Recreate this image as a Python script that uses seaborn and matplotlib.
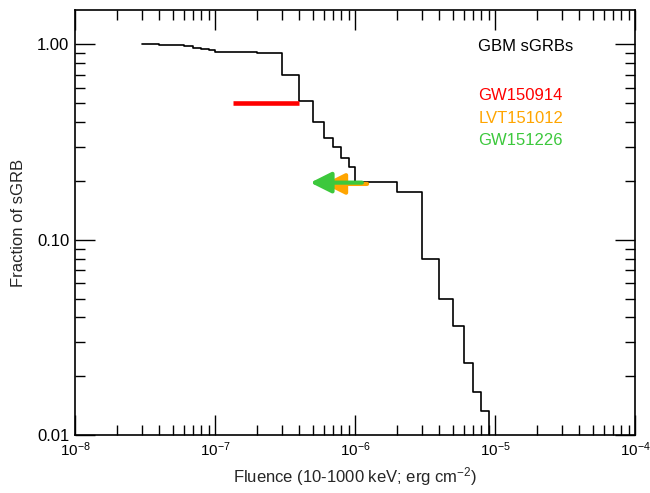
import numpy as np
import pandas as pd
import seaborn as sns
import matplotlib.pyplot as plt
from matplotlib.ticker import LogLocator, FixedLocator, FixedFormatter, NullFormatter

# cumulative fraction of GBM short GRBs above a given fluence (step edges)
fluence = [3e-8, 4e-8, 6e-8, 7e-8, 8e-8, 9e-8, 1e-7, 2e-7, 3e-7, 4e-7, 5e-7,
           6e-7, 7e-7, 8e-7, 9e-7, 1e-6, 2e-6, 3e-6, 4e-6, 5e-6, 6e-6, 7e-6,
           8e-6, 9e-6]
fraction = [1.0, 0.988, 0.98, 0.954, 0.946, 0.935, 0.913, 0.903, 0.696, 0.512,
            0.402, 0.331, 0.300, 0.262, 0.235, 0.198, 0.176, 0.080, 0.0497,
            0.0363, 0.0234, 0.0166, 0.0133, 0.001]

# GW event limits
gw150914_range = [1.35e-7, 4.0e-7]
gw150914_frac = 0.502
lvt151012_tail, lvt151012_tip, lvt151012_frac = 1.22e-6, 6.0e-7, 0.193
gw151226_tail, gw151226_tip, gw151226_frac = 1.12e-6, 4.8e-7, 0.196

sns.set_style('ticks')
plt.rcParams['font.family'] = ['Liberation Sans', 'DejaVu Sans']
plt.rcParams['mathtext.fontset'] = 'custom'
plt.rcParams['mathtext.rm'] = 'Liberation Sans'
plt.rcParams['mathtext.it'] = 'Liberation Sans'

fig = plt.figure(figsize=(6.5, 4.93), dpi=100)
ax = fig.add_axes([0.1154, 0.1176, 0.8615, 0.8621])

df = pd.DataFrame({'fluence': fluence, 'fraction': fraction})
sns.lineplot(data=df, x='fluence', y='fraction', drawstyle='steps-post',
             color='black', linewidth=1.2, ax=ax)

# GW150914 range
ax.plot(gw150914_range, [gw150914_frac, gw150914_frac], color='#ff0000',
        linewidth=3.3, solid_capstyle='butt', zorder=3)

# upper limits as arrows
ax.annotate('', xy=(lvt151012_tip, lvt151012_frac), xytext=(lvt151012_tail, lvt151012_frac),
            arrowprops=dict(arrowstyle='-|>,head_length=0.9,head_width=0.45', color='#ffa500',
                            lw=3, shrinkA=0, shrinkB=0, mutation_scale=14), zorder=4)
ax.annotate('', xy=(gw151226_tip, gw151226_frac), xytext=(gw151226_tail, gw151226_frac),
            arrowprops=dict(arrowstyle='-|>,head_length=0.9,head_width=0.45', color='#3cc83c',
                            lw=3, shrinkA=0, shrinkB=0, mutation_scale=14), zorder=5)

ax.set_xscale('log')
ax.set_yscale('log')
ax.set_xlim(1e-8, 1e-4)
ax.set_ylim(0.01, 1.5)

ax.yaxis.set_major_locator(FixedLocator([0.01, 0.1, 1.0]))
ax.yaxis.set_major_formatter(FixedFormatter(['0.01', '0.10', '1.00']))
ax.yaxis.set_minor_locator(LogLocator(base=10, subs=np.arange(2, 10)))
ax.yaxis.set_minor_formatter(NullFormatter())
ax.xaxis.set_major_locator(LogLocator(base=10, numticks=10))
ax.xaxis.set_minor_locator(LogLocator(base=10, subs=np.arange(2, 10), numticks=10))
ax.xaxis.set_minor_formatter(NullFormatter())

ax.tick_params(which='both', direction='in', top=True, right=True, width=1.0,
               color='black', labelsize=12, labelcolor='black')
ax.tick_params(axis='x', which='major', labelsize=11)
ax.tick_params(which='major', length=14.5, pad=4)
ax.tick_params(which='minor', length=7.2)
for s in ax.spines.values():
    s.set_linewidth(1.2)
    s.set_color('black')

ax.set_xlabel('Fluence (10-1000 keV; erg cm$^{-2}$)', fontsize=12, labelpad=4)
ax.set_ylabel('Fraction of sGRB', fontsize=12, labelpad=8)

ax.text(0.72, 0.915, 'GBM sGRBs', transform=ax.transAxes, fontsize=12,
        color='black', va='center')
ax.text(0.72, 0.798, 'GW150914', transform=ax.transAxes, fontsize=12,
        color='#ff0000', va='center')
ax.text(0.72, 0.744, 'LVT151012', transform=ax.transAxes, fontsize=12,
        color='#ffa500', va='center')
ax.text(0.72, 0.692, 'GW151226', transform=ax.transAxes, fontsize=12,
        color='#3cc83c', va='center')

fig.savefig('out.png', dpi=100)
